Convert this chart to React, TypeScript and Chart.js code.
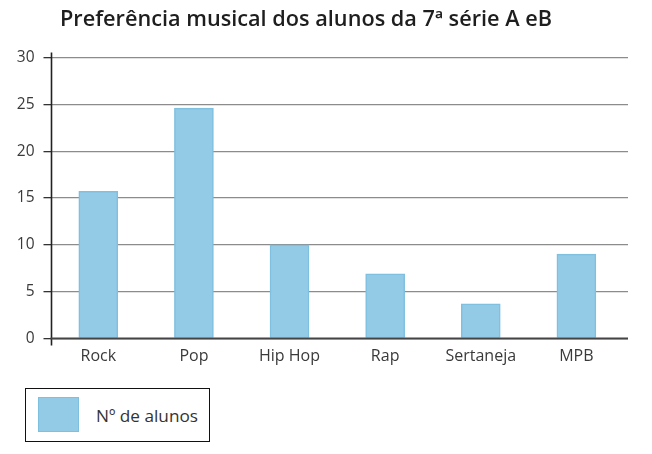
import React, { useEffect, useRef } from "react";
import { Chart, registerables } from "chart.js";

Chart.register(...registerables);

const categories = ["Rock", "Pop", "Hip Hop", "Rap", "Sertaneja", "MPB"];
const alunos = [15.7, 24.6, 10, 6.9, 3.7, 9];
const yTicks = [0, 5, 10, 15, 20, 25, 30];
const titleText = "Preferência musical dos alunos da 7ª série A eB";
const seriesLabel = "Nº de alunos";

const FONT = "'Open Sans', Lato, sans-serif";
const BAR_FILL = "#93cae6";
const BAR_BORDER = "#7fbfe0";

const axisLinePlugin = {
  id: "axisLine",
  afterDraw(chart: any) {
    const { ctx, chartArea } = chart;
    const x = Math.round(chartArea.left) + 0.5;
    ctx.save();
    ctx.strokeStyle = "#222";
    ctx.lineWidth = 1.6;
    ctx.beginPath();
    ctx.moveTo(x, chartArea.top - 5);
    ctx.lineTo(x, chartArea.bottom + 7);
    ctx.stroke();
    ctx.strokeStyle = "#444";
    ctx.lineWidth = 2;
    ctx.beginPath();
    ctx.moveTo(chartArea.left, chartArea.bottom);
    ctx.lineTo(chartArea.right, chartArea.bottom);
    ctx.stroke();
    ctx.restore();
  },
};

export default function App() {
  const ref = useRef<HTMLCanvasElement | null>(null);

  useEffect(() => {
    if (!ref.current) return;
    const chart = new Chart(ref.current, {
      type: "bar",
      data: {
        datasets: [
          {
            label: seriesLabel,
            data: alunos.map((v, i) => ({ x: i, y: v })),
            backgroundColor: BAR_FILL,
            borderColor: BAR_BORDER,
            borderWidth: 1.5,
            barThickness: 39,
          },
        ],
      },
      options: {
        animation: false,
        responsive: false,
        maintainAspectRatio: false,
        layout: { padding: { left: 0, right: 24, top: 57.5, bottom: 0 } },
        plugins: {
          legend: { display: false },
          title: { display: false },
          tooltip: { enabled: false },
        },
        scales: {
          x: {
            type: "linear",
            offset: false,
            min: -0.5,
            max: 5.54,
            grid: { display: false, drawTicks: false, offset: false },
            border: { display: false },
            afterFit(scale: any) {
              scale.height = 115.5;
            },
            afterBuildTicks(scale: any) {
              scale.ticks = categories.map((_, i) => ({ value: i }));
            },
            ticks: {
              padding: 8,
              autoSkip: false,
              maxRotation: 0,
              color: "#3a3a3a",
              font: { family: FONT, size: 16 },
              callback: (v: any) => categories[Math.round(Number(v))] ?? "",
            },
          },
          y: {
            min: 0,
            max: 30,
            afterBuildTicks(scale: any) {
              scale.ticks = yTicks.map((v) => ({ value: v }));
            },
            afterFit(scale: any) {
              scale.width = 50.5;
            },
            grid: {
              color: "#8c8c8c",
              lineWidth: 1.3,
              tickLength: 7,
              tickColor: "#333",
              tickWidth: 1.3,
            },
            border: { display: false },
            ticks: {
              padding: 9,
              color: "#3a3a3a",
              font: { family: FONT, size: 15.5 },
            },
          },
        },
      },
      plugins: [axisLinePlugin],
    });
    return () => chart.destroy();
  }, []);

  return (
    <div style={{ position: "fixed", left: 0, top: 0, width: 652, height: 454, background: "#fff" }}>
      <canvas ref={ref} width={652} height={454} style={{ position: "absolute", left: 0, top: 0 }} />
      <div
        style={{
          position: "absolute",
          left: 60,
          top: 3,
          fontFamily: FONT,
          fontWeight: 600,
          fontSize: 21.7,
          color: "#1e1e1e",
          whiteSpace: "nowrap",
        }}
      >
        {titleText}
      </div>
      <div
        style={{
          position: "absolute",
          left: 25,
          top: 388,
          width: 185,
          height: 54,
          boxSizing: "border-box",
          border: "1.5px solid #111",
          background: "#fff",
        }}
      >
        <div
          style={{
            position: "absolute",
            left: 12,
            top: 8,
            width: 41,
            height: 35,
            boxSizing: "border-box",
            background: BAR_FILL,
            border: `1.5px solid ${BAR_BORDER}`,
          }}
        />
        <div
          style={{
            position: "absolute",
            left: 70,
            top: 1,
            height: 51,
            lineHeight: "51px",
            fontFamily: FONT,
            fontSize: 17.2,
            color: "#333",
            whiteSpace: "nowrap",
          }}
        >
          {seriesLabel}
        </div>
      </div>
    </div>
  );
}
